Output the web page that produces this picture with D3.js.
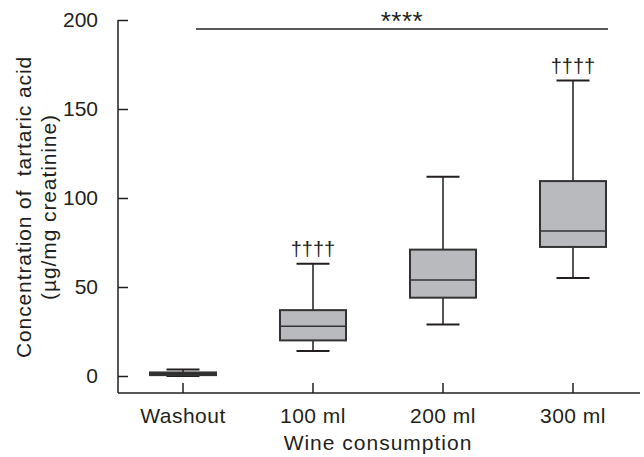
<!DOCTYPE html>
<html>
<head>
<meta charset="utf-8">
<script src="https://cdn.jsdelivr.net/npm/d3@7"></script>
<style>
  body { margin: 0; background: #fff; }
  svg text { font-family: "Liberation Sans", Arial, Helvetica, sans-serif; fill: #231f20; }
</style>
</head>
<body>
<div id="chart"></div>
<script>
// data
const categories = ["Washout", "100 ml", "200 ml", "300 ml"];
const whiskerLow  = [0,   14, 29, 55];
const q1          = [0.5, 20, 44, 72.5];
const median      = [1,   28, 54, 81.5];
const q3          = [2,   37, 71, 109.5];
const whiskerHigh = [3.6, 63, 112, 166];
const daggers     = ["", "††††", "", "††††"];
const yTicks      = [0, 50, 100, 150, 200];
const sigLabel    = "****";

const width = 644, height = 457;
const svg = d3.select("#chart")
  .append("svg")
    .attr("width", width)
    .attr("height", height);

const x = d3.scaleBand()
  .domain(categories)
  .range([118, 638])
  .padding(0);

const y = d3.scaleLinear()
  .domain([0, 200])
  .range([376, 20]);

const axisY = 393;   // where x-axis sits (below zero)
const boxW = 66;
const capW = 33;

const rows = categories.map((c, i) => ({
  cat: c, lo: whiskerLow[i], q1: q1[i], med: median[i], q3: q3[i], hi: whiskerHigh[i], mark: daggers[i]
}));

// y axis (ticks inward)
const yAxis = svg.append("g")
  .attr("transform", "translate(118,0)")
  .call(d3.axisLeft(y).tickValues(yTicks).tickSize(-10).tickPadding(20));
yAxis.select(".domain").remove();
yAxis.selectAll(".tick line").attr("stroke", "#231f20").attr("stroke-width", 1.5);
yAxis.selectAll(".tick text")
  .attr("font-size", 21)
  .attr("font-family", "Liberation Sans, Arial, sans-serif")
  .attr("fill", "#231f20");
svg.append("line")
  .attr("x1", 118).attr("x2", 118)
  .attr("y1", y(200)).attr("y2", axisY)
  .attr("stroke", "#231f20").attr("stroke-width", 1.5);

// x axis (ticks inward)
const xAxis = svg.append("g")
  .attr("transform", `translate(0,${axisY})`)
  .call(d3.axisBottom(x).tickSize(-10).tickPadding(15).tickSizeOuter(0));
xAxis.select(".domain").remove();
xAxis.selectAll(".tick line").attr("stroke", "#231f20").attr("stroke-width", 1.5);
xAxis.selectAll(".tick text")
  .attr("font-size", 21)
  .attr("letter-spacing", 0.5)
  .attr("font-family", "Liberation Sans, Arial, sans-serif")
  .attr("fill", "#231f20");
svg.append("line")
  .attr("x1", 118).attr("x2", 640)
  .attr("y1", axisY).attr("y2", axisY)
  .attr("stroke", "#231f20").attr("stroke-width", 1.5);

// boxes
const cx = d => x(d.cat) + x.bandwidth() / 2;
const g = svg.append("g");

g.selectAll("line.whisker")
  .data(rows)
  .join("line")
  .attr("class", "whisker")
  .attr("x1", cx).attr("x2", cx)
  .attr("y1", d => y(d.lo)).attr("y2", d => y(d.hi))
  .attr("stroke", "#555").attr("stroke-width", 2);

g.selectAll("line.capHi")
  .data(rows)
  .join("line")
  .attr("class", "capHi")
  .attr("x1", d => cx(d) - capW / 2).attr("x2", d => cx(d) + capW / 2)
  .attr("y1", d => y(d.hi)).attr("y2", d => y(d.hi))
  .attr("stroke", "#231f20").attr("stroke-width", 2);

g.selectAll("line.capLo")
  .data(rows)
  .join("line")
  .attr("class", "capLo")
  .attr("x1", d => cx(d) - capW / 2).attr("x2", d => cx(d) + capW / 2)
  .attr("y1", d => y(d.lo)).attr("y2", d => y(d.lo))
  .attr("stroke", "#231f20").attr("stroke-width", 2);

g.selectAll("rect.box")
  .data(rows)
  .join("rect")
  .attr("class", "box")
  .attr("x", d => cx(d) - boxW / 2)
  .attr("width", boxW)
  .attr("y", d => y(d.q3))
  .attr("height", d => y(d.q1) - y(d.q3))
  .attr("fill", d => (y(d.q1) - y(d.q3) < 4 ? "#231f20" : "#b9babe"))
  .attr("stroke", "#333").attr("stroke-width", 2);

g.selectAll("line.median")
  .data(rows)
  .join("line")
  .attr("class", "median")
  .attr("x1", d => cx(d) - boxW / 2).attr("x2", d => cx(d) + boxW / 2)
  .attr("y1", d => y(d.med)).attr("y2", d => y(d.med))
  .attr("stroke", "#333").attr("stroke-width", 1.5);

// dagger marks above whiskers
g.selectAll("text.dagger")
  .data(rows.filter(d => d.mark))
  .join("text")
  .attr("class", "dagger")
  .attr("x", cx)
  .attr("y", d => y(d.hi) - 8)
  .attr("text-anchor", "middle")
  .attr("font-size", 20)
  .attr("font-family", "DejaVu Sans, sans-serif")
  .style("fill", "#231f20")
  .text(d => d.mark);

// overall significance bar
svg.append("line")
  .attr("x1", 196).attr("x2", 608)
  .attr("y1", 29).attr("y2", 29)
  .attr("stroke", "#231f20").attr("stroke-width", 1.3);
svg.append("text")
  .attr("x", 402).attr("y", 30)
  .attr("text-anchor", "middle")
  .attr("font-size", 26)
  .attr("letter-spacing", 0.5)
  .text(sigLabel);

// axis titles
svg.append("text")
  .attr("x", 378).attr("y", 450)
  .attr("text-anchor", "middle")
  .attr("font-size", 21)
  .attr("letter-spacing", 1)
  .text("Wine consumption");

const yTitle = svg.append("text")
  .attr("transform", "translate(0,207) rotate(-90)")
  .attr("text-anchor", "middle")
  .attr("font-size", 21)
  .attr("letter-spacing", 0.9);
yTitle.append("tspan").attr("x", 0).attr("y", 31).text("Concentration of  tartaric acid").style("white-space", "pre");
yTitle.append("tspan").attr("x", 0).attr("y", 56).text("(µg/mg creatinine)");
</script>
</body>
</html>
